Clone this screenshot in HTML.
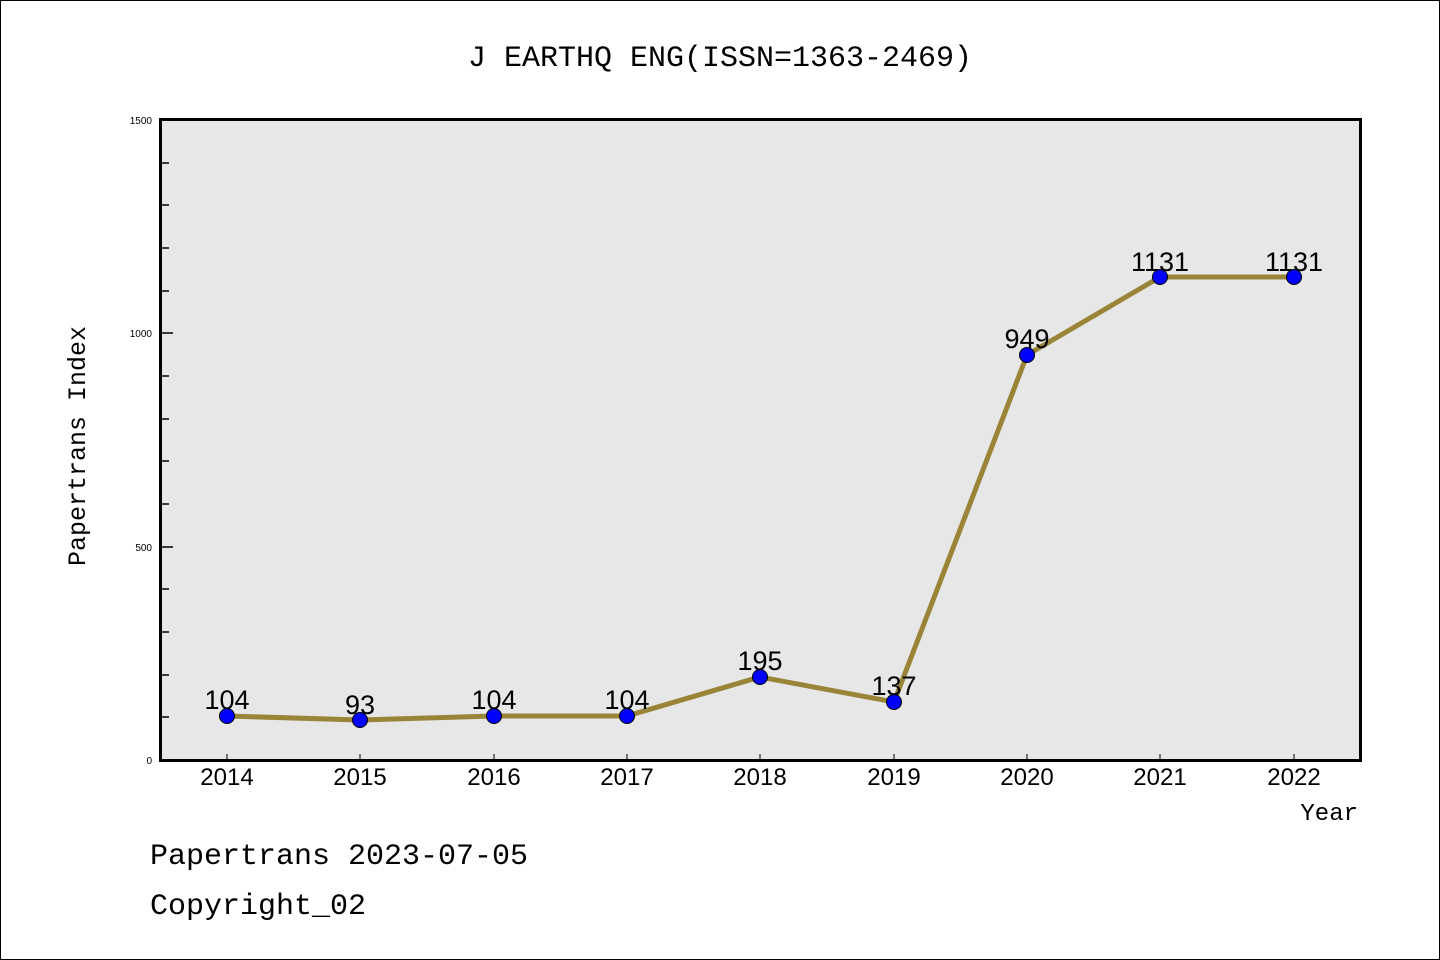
<!DOCTYPE html>
<html><head><meta charset="utf-8"><style>
html,body{margin:0;padding:0;background:#fff}
svg{display:block}
text{font-family:"Liberation Sans","DejaVu Sans",sans-serif}
.m{font-family:"Liberation Mono","DejaVu Sans Mono",monospace}
</style></head><body>
<svg width="1440" height="960" viewBox="0 0 1440 960">
<rect x="0.5" y="0.5" width="1439" height="959" fill="#fff" stroke="#000"/>
<text x="720" y="66" text-anchor="middle" font-size="30" class="m">J EARTHQ ENG(ISSN=1363-2469)</text>
<rect x="160.5" y="120" width="1200" height="640" fill="#e7e7e7"/>
<g stroke="#000" stroke-width="1.5">
<line x1="160" y1="163" x2="169" y2="163"/><line x1="160" y1="205" x2="169" y2="205"/>
<line x1="160" y1="248" x2="169" y2="248"/><line x1="160" y1="291" x2="169" y2="291"/>
<line x1="160" y1="333" x2="173" y2="333"/>
<line x1="160" y1="376" x2="169" y2="376"/><line x1="160" y1="419" x2="169" y2="419"/>
<line x1="160" y1="461" x2="169" y2="461"/><line x1="160" y1="504" x2="169" y2="504"/>
<line x1="160" y1="547" x2="173" y2="547"/>
<line x1="160" y1="589" x2="169" y2="589"/><line x1="160" y1="632" x2="169" y2="632"/>
<line x1="160" y1="675" x2="169" y2="675"/><line x1="160" y1="717" x2="169" y2="717"/>
</g>
<g stroke="#000" stroke-width="1">
<line x1="227" y1="760" x2="227" y2="754"/><line x1="360" y1="760" x2="360" y2="754"/>
<line x1="494" y1="760" x2="494" y2="754"/><line x1="627" y1="760" x2="627" y2="754"/>
<line x1="760" y1="760" x2="760" y2="754"/><line x1="894" y1="760" x2="894" y2="754"/>
<line x1="1027" y1="760" x2="1027" y2="754"/><line x1="1160" y1="760" x2="1160" y2="754"/>
<line x1="1294" y1="760" x2="1294" y2="754"/>
</g>
<rect x="160.5" y="119.5" width="1200" height="641" fill="none" stroke="#000" stroke-width="3"/>
<g font-size="10" text-anchor="end">
<text x="152" y="124">1500</text><text x="152" y="337">1000</text>
<text x="152" y="551">500</text><text x="152" y="764">0</text>
</g>
<g font-size="24" text-anchor="middle">
<text x="227" y="785">2014</text><text x="360" y="785">2015</text><text x="494" y="785">2016</text>
<text x="627" y="785">2017</text><text x="760" y="785">2018</text><text x="894" y="785">2019</text>
<text x="1027" y="785">2020</text><text x="1160" y="785">2021</text><text x="1294" y="785">2022</text>
</g>
<text x="1358" y="820" font-size="24" text-anchor="end" class="m">Year</text>
<text transform="translate(85,446) rotate(-90)" font-size="25" text-anchor="middle" class="m">Papertrans Index</text>
<polyline fill="none" stroke="#9a8438" stroke-width="5" points="227,716 360,720 494,716 627,716 760,677 894,702 1027,355 1160,277 1294,277"/>
<g fill="#0000ff" stroke="#000" stroke-width="1">
<circle cx="227" cy="716" r="7.5"/><circle cx="360" cy="720" r="7.5"/><circle cx="494" cy="716" r="7.5"/>
<circle cx="627" cy="716" r="7.5"/><circle cx="760" cy="677" r="7.5"/><circle cx="894" cy="702" r="7.5"/>
<circle cx="1027" cy="355" r="7.5"/><circle cx="1160" cy="277" r="7.5"/><circle cx="1294" cy="277" r="7.5"/>
</g>
<g font-size="27" text-anchor="middle">
<text x="227" y="709">104</text><text x="360" y="714">93</text><text x="494" y="709">104</text>
<text x="627" y="709">104</text><text x="760" y="670">195</text><text x="894" y="695">137</text>
<text x="1027" y="348">949</text><text x="1160" y="271">1131</text><text x="1294" y="271">1131</text>
</g>
<text x="150" y="864" font-size="30" class="m">Papertrans 2023-07-05</text>
<text x="150" y="914" font-size="30" class="m">Copyright_02</text>
</svg>
</body></html>
